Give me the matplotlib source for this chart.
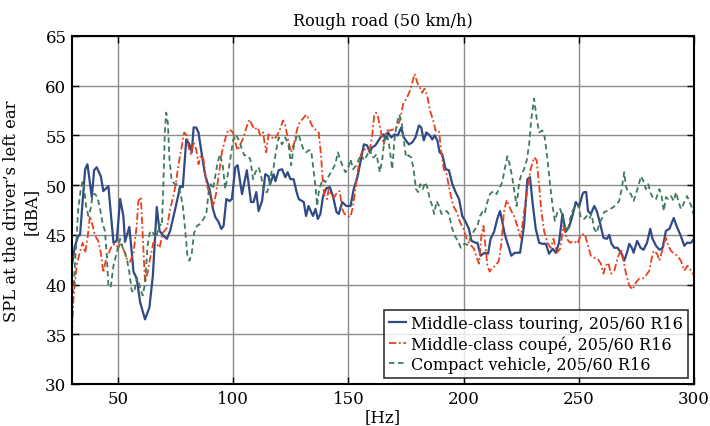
import matplotlib
matplotlib.use("Agg")
import matplotlib.pyplot as plt

# Frequency axis (Hz) and sound pressure levels (dBA) for each vehicle
touring_hz = [30, 31.2, 32.7, 33.5, 35.7, 36.7, 38.6, 39.6, 40.7, 42.5, 43.6, 45.8, 48, 49.4, 50.9, 52.3, 53,
              54.9, 56.7, 58.1, 59.6, 61.7, 63.6, 65.1, 66.8, 68, 69.7, 71.2, 72.6, 74.8, 77, 78.1, 79.6, 81,
              82, 82.8, 83.9, 84.9, 86.4, 87.8, 89.7, 91.2, 92.2, 93.6, 94.8, 95.8, 97, 98.4, 99.4, 100.9,
              101.9, 103.8, 105.9, 107.7, 108.8, 110, 111, 112.5, 113.9, 115.3, 116, 117.5, 118.3, 119.7,
              121.2, 122.6, 123.6, 124.8, 126.2, 127.4, 128.4, 129.9, 130.6, 131.6, 132.7, 133.8, 134.6,
              135.7, 136.7, 137.8, 139, 140.4, 141.9, 143.3, 144.8, 145.8, 147.3, 149.1, 150.9, 152.3, 154,
              155.2, 156.7, 158.1, 159.3, 160.3, 161.7, 163.9, 165.3, 166.1, 167.1, 168.6, 170, 171.4,
              172.9, 174, 176.2, 177.7, 179.1, 180.6, 181.6, 182.7, 183.8, 185.3, 186.4, 187.4, 188.6,
              189.6, 190.7, 192.2, 193.6, 195.1, 196.5, 198, 199.4, 200.9, 202.3, 203.4, 205.2, 206,
              207.4, 209.1, 210.6, 211.7, 213.2, 214.6, 215.8, 216.8, 217.8, 219, 220.7, 222.2, 223.3,
              224.5, 226.2, 227.7, 228.8, 229.9, 231.3, 232.8, 234.2, 235.7, 237.1, 238.6, 240, 241.4,
              242.9, 244.3, 245.8, 247.2, 248.7, 250.1, 251.6, 252.3, 253.2, 254, 255.2, 256.7, 257.8,
              259.3, 260.7, 262.2, 263.2, 264.2, 265.4, 266.8, 268.6, 269.7, 270.9, 271.9, 273, 273.8,
              275.3, 276.8, 278.1, 279.6, 281, 282, 283.5, 285, 286.4, 287.8, 289.3, 291.2, 292.6, 294.1,
              295.8, 297, 298.7, 300]
touring_db = [42.0, 43.8, 44.9, 45.0, 51.6, 52.1, 48.8, 51.5, 51.8, 50.9, 49.4, 49.9, 44.2, 44.4, 48.6, 46.9,
              44.3, 45.8, 41.3, 40.6, 38.2, 36.5, 37.7, 40.9, 47.8, 45.4, 44.9, 44.6, 45.4, 47.6, 49.9, 49.8,
              54.6, 54.1, 53.3, 55.8, 55.8, 55.3, 53.0, 51.0, 49.6, 47.6, 46.8, 46.3, 45.6, 45.9, 48.6, 48.4,
              48.6, 51.8, 52.0, 49.1, 51.5, 48.3, 48.3, 49.3, 47.4, 48.4, 51.1, 50.9, 50.1, 51.1, 50.4, 51.5,
              51.6, 50.8, 51.3, 50.6, 50.6, 49.4, 48.6, 48.4, 48.3, 46.9, 47.9, 47.3, 46.9, 47.6, 46.6, 47.1,
              48.9, 49.7, 49.8, 48.9, 47.3, 47.1, 48.3, 47.9, 47.9, 49.6, 50.9, 52.3, 54.1, 54.0, 53.3, 53.8,
              54.0, 54.8, 55.1, 54.6, 55.3, 54.8, 55.1, 55.0, 55.8, 54.8, 54.1, 54.3, 54.8, 56.0, 55.8, 54.5,
              55.3, 55.0, 54.6, 55.0, 54.5, 53.3, 53.1, 51.6, 51.5, 50.1, 49.3, 48.6, 46.9, 46.3, 45.6, 44.4,
              44.2, 44.2, 42.9, 43.2, 43.1, 44.6, 45.3, 46.6, 47.4, 46.3, 45.1, 44.2, 42.9, 43.2, 43.2, 43.2,
              45.9, 50.6, 50.8, 48.3, 45.6, 44.2, 44.1, 44.1, 43.1, 43.6, 43.2, 44.2, 47.1, 45.3, 45.8, 46.9,
              48.3, 47.8, 49.1, 49.3, 49.3, 47.4, 47.1, 47.9, 47.4, 46.1, 44.7, 44.6, 45.0, 44.1, 43.7, 43.7,
              43.1, 42.4, 43.2, 44.1, 43.7, 43.2, 44.4, 43.7, 43.5, 44.2, 45.6, 44.6, 43.9, 43.5, 43.7, 45.4,
              45.6, 46.7, 45.8, 45.0, 43.9, 44.2, 44.2, 44.6]

coupe_hz = [30, 30.6, 32, 33.2, 34.6, 35.7, 36.7, 37.8, 39, 40, 41.4, 42.5, 43.6, 44.8, 45.8, 47.3, 48.7, 50.1,
            51.2, 52.3, 53.8, 55.2, 56.7, 58.1, 58.8, 59.9, 60.7, 61.7, 62.8, 63.9, 65.3, 66.8, 68, 69.4,
            71.2, 72.6, 74, 74.8, 76.2, 77.7, 78.7, 79.9, 80.6, 81.6, 82.8, 83.9, 84.9, 86, 87.1, 88.3,
            89.3, 90.3, 91.4, 92.5, 93.6, 95.1, 96.1, 97.3, 98.4, 99.9, 100.9, 101.9, 103.1, 104.5, 105.7,
            107, 108.1, 109.1, 110.6, 111.7, 112.9, 114.3, 115.3, 116.8, 117.8, 119, 120.1, 121.6, 122.6,
            124, 125.1, 126.5, 127.7, 128.8, 130.3, 131.7, 133.2, 134.6, 136.1, 137.1, 138.1, 138.8,
            139.6, 140.7, 141.4, 142.6, 143.9, 145.1, 146.2, 147.3, 148.3, 149.7, 150.9, 152, 153, 154,
            154.9, 156, 157, 158.1, 159.3, 160.3, 161.2, 161.9, 162.7, 163.9, 165.3, 166.5, 168, 169.4,
            170.9, 172.3, 173.8, 175.2, 176.7, 177.7, 178.7, 179.9, 181, 182, 183, 184.2, 185.4, 186.8,
            187.8, 189.3, 190.3, 191.4, 192.6, 194, 195.5, 197, 198.4, 199.9, 201.6, 203, 204.5, 205.7,
            206.7, 207.7, 208.6, 209.6, 210.3, 211.3, 212.5, 213.9, 215.3, 216.4, 217.5, 218.7, 219.7,
            220.7, 221.9, 223.3, 224.8, 226.2, 227.7, 229.1, 230.6, 231.7, 232.8, 233.8, 235, 236.4,
            237.8, 239, 240.4, 241.9, 243.3, 244.8, 246.2, 248, 249.4, 250.9, 252.6, 254, 255.2, 256.7,
            258.1, 259.6, 260.7, 261.7, 262.8, 263.9, 265.4, 266.8, 268.3, 269.4, 270.4, 271.9, 273.3,
            274.8, 276.2, 277.7, 279.1, 280.6, 281.6, 282.5, 284, 285, 286.4, 287.8, 288.8, 290, 291.4,
            292.9, 294.3, 295.8, 297.2, 298.7, 300]
coupe_db = [35.2, 38.5, 41.9, 43.1, 44.2, 43.2, 44.6, 46.9, 45.9, 44.9, 44.4, 43.2, 41.2, 42.6, 43.1, 43.9,
            44.1, 43.7, 44.2, 43.6, 42.6, 42.3, 43.2, 45.9, 48.4, 48.8, 44.9, 40.2, 41.2, 42.6, 44.2, 44.1,
            43.7, 45.2, 45.7, 47.6, 48.9, 49.8, 52.0, 54.0, 55.3, 55.0, 53.8, 53.1, 54.3, 53.6, 52.1, 53.0,
            52.6, 50.3, 49.4, 48.9, 47.9, 49.1, 50.9, 53.3, 54.3, 55.3, 55.6, 55.3, 54.3, 53.5, 54.1, 54.8,
            55.8, 56.6, 56.1, 55.6, 55.8, 55.0, 55.3, 53.3, 55.1, 54.8, 54.6, 55.0, 55.5, 56.5, 56.0, 54.3,
            53.3, 54.3, 55.6, 56.3, 56.7, 57.1, 56.5, 55.8, 55.5, 55.3, 53.0, 50.6, 48.9, 48.6, 49.6, 48.9,
            48.8, 49.3, 49.4, 47.6, 47.1, 46.9, 46.8, 47.9, 49.6, 51.3, 52.6, 53.5, 53.6, 53.5, 53.6, 55.0,
            57.0, 57.3, 57.0, 55.6, 54.1, 55.5, 55.5, 55.6, 55.8, 56.5, 58.2, 58.7, 59.5, 60.3, 61.2, 60.3,
            59.8, 59.3, 59.7, 59.0, 57.5, 56.5, 55.5, 55.5, 53.3, 51.6, 51.1, 49.4, 47.9, 47.3, 46.3, 45.6,
            44.4, 44.0, 43.6, 42.7, 42.1, 44.9, 45.9, 43.6, 41.9, 41.3, 41.7, 41.9, 42.4, 44.2, 47.3, 48.5,
            47.9, 47.4, 46.9, 45.9, 44.7, 47.3, 49.6, 51.6, 52.8, 52.5, 49.9, 47.3, 45.3, 44.2, 43.7, 44.6,
            43.2, 43.6, 45.9, 44.6, 44.2, 44.4, 44.1, 45.0, 45.1, 43.9, 42.9, 42.7, 42.6, 42.1, 41.1, 41.9,
            42.2, 41.1, 41.4, 42.6, 43.6, 42.4, 41.2, 39.9, 39.5, 40.2, 40.6, 40.6, 40.9, 41.4, 42.6, 43.4,
            43.1, 42.4, 43.6, 44.7, 43.9, 43.4, 43.1, 42.9, 42.4, 41.4, 41.9, 41.4, 40.9]

compact_hz = [30, 30.6, 31.7, 32.7, 33.8, 34.6, 35.2, 36.1, 37.1, 38.1, 39, 40, 41, 42.2, 43.3, 44.3, 45.1,
              45.8, 46.8, 48, 49.4, 50.9, 52, 53, 53.8, 54.9, 55.9, 57, 58.1, 58.8, 59.9, 60.7, 61.7, 62.8,
              63.9, 65.1, 66.5, 68, 69, 69.7, 70.3, 70.9, 71.6, 72.3, 73.3, 74.8, 75.5, 77, 78.1, 79.1,
              80.1, 81, 82, 83, 84.2, 85.7, 87.1, 88.3, 89.3, 90.3, 91.2, 92.2, 93.2, 94.3, 95.5, 96.5,
              97.5, 98.7, 99.9, 100.9, 102.3, 103.5, 104.8, 106.2, 107.4, 108.6, 109.6, 111, 112, 113.2,
              114.7, 115.8, 116.8, 117.5, 118.7, 119.7, 121.2, 122.6, 124, 125.1, 126.2, 127.4, 128.4,
              129.4, 130.6, 131.7, 132.7, 133.8, 134.6, 135.7, 136.4, 137.1, 137.8, 138.8, 140, 141.4,
              142.9, 144.3, 145.4, 146.5, 147.7, 148.7, 149.7, 150.9, 152, 153.5, 154.5, 155.5, 156.7,
              158.1, 159.3, 160.3, 161, 162.2, 163.6, 164.7, 165.7, 166.8, 168, 169, 170, 170.9, 172.1,
              173.1, 174, 175, 176, 177.2, 178.3, 179.3, 180.3, 181.2, 182.3, 183.3, 184.2, 185.3, 186.4,
              187.2, 188.3, 189.3, 190.4, 191.6, 192.6, 193.6, 194.8, 196.2, 197.4, 198.8, 200.3, 201.7,
              203.2, 204.5, 206, 207.1, 208.1, 209.1, 210.3, 211.4, 212.9, 214.3, 215.3, 216.8, 217.8,
              219, 220.1, 221.2, 222.2, 223, 224.1, 225.1, 226.2, 227.4, 228.4, 229.4, 230.6, 231.7,
              232.8, 234.2, 235.2, 236.4, 237.6, 238.6, 239.6, 240.7, 241.9, 242.9, 243.9, 245.1, 246.2,
              247.2, 248.7, 249.7, 250.9, 252.3, 253.5, 254.5, 255.5, 256.7, 257.8, 258.8, 259.9, 261,
              262.2, 263.6, 265.1, 266.5, 267.5, 268.6, 269.7, 270.4, 271.4, 272.6, 273.8, 274.8, 275.8,
              277, 278.1, 279.1, 280.1, 281.3, 282.5, 283.5, 285, 286, 286.9, 287.8, 288.8, 290, 291.2,
              292.2, 293.2, 294.3, 295.8, 297, 297.9, 299, 300]
compact_db = [39.0, 39.5, 43.6, 47.6, 49.6, 50.4, 49.9, 47.9, 46.9, 47.6, 49.1, 49.1, 48.8, 47.6, 46.1, 45.4,
              42.9, 39.9, 39.7, 41.9, 43.2, 44.6, 43.7, 43.2, 42.6, 41.2, 39.4, 39.2, 40.7, 40.4, 39.4, 38.9,
              40.1, 43.9, 45.4, 45.2, 44.7, 46.1, 45.9, 50.3, 55.3, 57.3, 56.3, 52.6, 50.4, 50.1, 50.1, 49.3,
              47.9, 45.6, 42.9, 42.4, 43.2, 45.2, 45.9, 46.1, 46.6, 47.1, 49.3, 50.1, 49.6, 50.9, 52.3, 53.1,
              51.9, 49.6, 50.9, 52.6, 54.5, 55.1, 54.6, 53.8, 53.0, 53.0, 52.6, 50.6, 51.3, 51.8, 51.1, 49.3,
              49.3, 50.1, 51.6, 51.8, 53.6, 54.8, 54.1, 54.8, 54.0, 52.0, 53.8, 54.8, 55.1, 54.3, 53.5, 53.3,
              53.5, 53.5, 52.0, 49.9, 47.9, 49.3, 49.9, 50.6, 50.3, 50.9, 51.5, 52.1, 53.3, 52.5, 51.8, 51.3,
              51.6, 52.6, 51.6, 52.0, 52.6, 53.1, 52.5, 53.0, 53.6, 52.8, 52.8, 53.1, 51.3, 52.6, 54.8, 55.1,
              53.5, 51.6, 54.6, 56.1, 57.1, 56.3, 54.6, 52.8, 53.0, 52.8, 51.6, 49.6, 49.3, 50.1, 49.6, 50.3,
              49.8, 48.6, 47.9, 47.1, 48.4, 47.9, 47.1, 47.3, 47.4, 47.1, 45.8, 44.9, 44.4, 43.7, 44.1, 44.0,
              44.8, 45.4, 45.9, 46.9, 47.3, 47.1, 48.3, 49.1, 49.4, 49.1, 49.6, 50.3, 51.6, 52.9, 52.0, 50.6,
              49.1, 47.9, 50.3, 51.1, 51.6, 52.5, 54.0, 56.7, 58.7, 56.7, 55.3, 55.5, 54.8, 52.6, 49.9, 47.9,
              46.4, 47.3, 47.6, 46.9, 45.9, 45.3, 46.6, 47.4, 47.9, 48.1, 46.7, 46.6, 46.9, 46.6, 47.1, 45.6,
              45.2, 46.1, 46.6, 47.3, 47.4, 47.6, 47.8, 48.1, 48.4, 49.6, 51.3, 49.9, 49.3, 49.1, 48.4, 49.1,
              49.9, 50.9, 50.4, 49.6, 50.1, 49.1, 48.6, 48.6, 49.6, 48.8, 47.4, 48.8, 48.6, 48.9, 48.4, 49.3,
              48.4, 47.6, 48.3, 48.9, 48.4, 47.8, 46.9]

series_labels = ["Middle-class touring, 205/60 R16",
                 "Middle-class coupé, 205/60 R16",
                 "Compact vehicle, 205/60 R16"]
x_ticks = [50, 100, 150, 200, 250, 300]
y_ticks = [30, 35, 40, 45, 50, 55, 60, 65]

plt.rcParams["font.family"] = ["DejaVu Serif"]
plt.rcParams["font.size"] = 11

fig = plt.figure(figsize=(7.10, 4.27), dpi=100)
ax = fig.add_axes([72 / 710, 1 - 385 / 427, (694 - 72) / 710, (385 - 37) / 427])

ax.plot(touring_hz, touring_db, color="#2F4A85", lw=1.6, ls="-", label=series_labels[0])
ax.plot(coupe_hz, coupe_db, color="#E8401C", lw=1.3, ls=(0, (4, 1.5, 1, 1.5)), label=series_labels[1])
ax.plot(compact_hz, compact_db, color="#3F7A5C", lw=1.3, ls=(0, (3, 2)), label=series_labels[2])

ax.set_xlim(30, 300)
ax.set_ylim(30, 65)
ax.set_xticks(x_ticks)
ax.set_yticks(y_ticks)
ax.grid(True, color="#8c8c8c", lw=1.0)
ax.set_axisbelow(True)
ax.tick_params(direction="in", top=True, right=True, length=5, width=1, pad=4, labelsize=12)
for s in ax.spines.values():
    s.set_linewidth(1.5)

ax.set_title("Rough road (50 km/h)", pad=8, fontsize=11.6)
ax.set_xlabel("[Hz]", labelpad=1, fontsize=12)
ax.set_ylabel("SPL at the driver\u2019s left ear\n[dBA]", labelpad=4, fontsize=11.8)

leg = ax.legend(loc="lower right", frameon=True, fancybox=False, edgecolor="black",
                handlelength=1.1, handletextpad=0.3, borderpad=0.3, labelspacing=0.2,
                borderaxespad=0.4, fontsize=11.5)
leg.get_frame().set_linewidth(1.2)

fig.savefig("out.png", dpi=100)
